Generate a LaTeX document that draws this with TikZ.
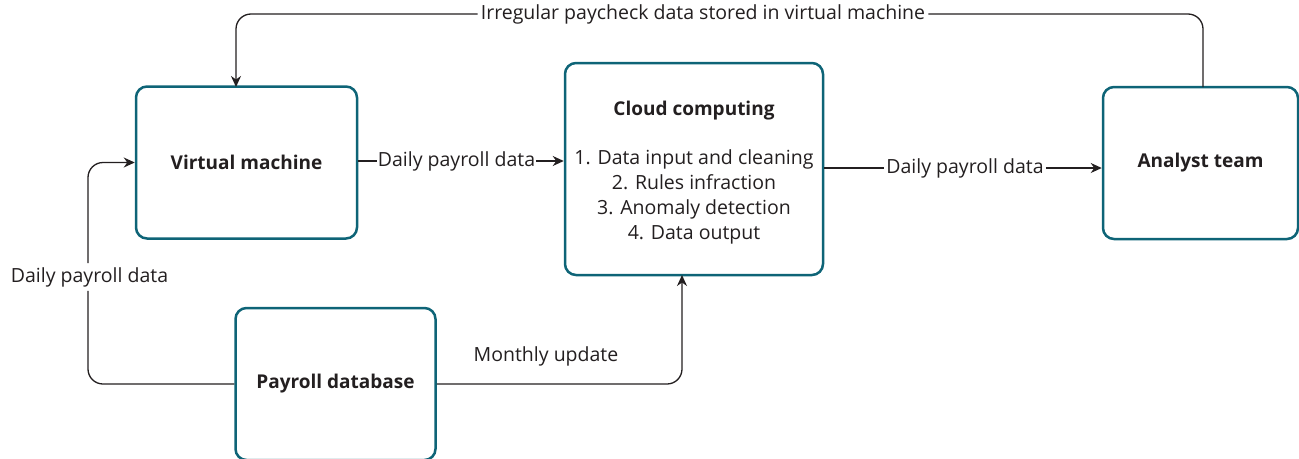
\documentclass[tikz,border=0pt]{standalone}
\usepackage{fontspec}
\setmainfont{Open Sans}
\usetikzlibrary{arrows.meta,calc}
\definecolor{boxteal}{HTML}{0E6477}
\definecolor{ink}{HTML}{231F20}
\tikzset{
  procbox/.style={draw=boxteal, line width=2.5pt, rounded corners=11pt, fill=white,
    font=\fontsize{19}{25}\selectfont\bfseries, text=ink, align=center, inner sep=0pt},
  conn/.style={draw=ink, line width=1.3pt, rounded corners=15pt},
  arr/.style={-{Stealth[length=11pt,width=10pt,inset=3.5pt]}},
  lbl/.style={font=\fontsize{19.5}{25}\selectfont, text=ink, inner sep=2pt, fill=white},
}
\begin{document}
\begin{tikzpicture}[x=1pt,y=-1pt]
\useasboundingbox (0,0) rectangle (1299,458);
\node[procbox, minimum width=221pt, minimum height=152pt] (vm) at (246.5,162.5) {Virtual machine};
\node[procbox, minimum width=258pt, minimum height=212pt] (cloud) at (694,169) {};
\node[font=\fontsize{19.5}{25}\selectfont, text=ink, align=center, inner sep=0pt] (cloudtxt) at (694,173)
  {{\fontsize{19}{25}\selectfont\bfseries Cloud computing}\\[24pt]1. Data input and cleaning\\2. Rules infraction\\3. Anomaly detection\\4. Data output};
\node[procbox, minimum width=195pt, minimum height=152pt] (at) at (1200.5,163) {Analyst team};
\node[procbox, minimum width=200pt, minimum height=152pt] (pd) at (335.5,384) {Payroll database};

\coordinate (atTop) at (1203,87);
\coordinate (vmTop) at (236,87);
\node[lbl, inner sep=3pt] (l1) at (703,14) {Irregular paycheck data stored in virtual machine};
\draw[conn] (atTop) |- (l1.east);
\draw[conn, arr] (l1.west) -| (vmTop);

\node[lbl, inner sep=0.5pt] (l2) at (456.5,161) {Daily payroll data};
\draw[conn] (vm.east |- l2) -- (l2.west);
\draw[conn, arr] (l2.east) -- (cloud.west |- l2);

\node[lbl] (l3) at (965,168) {Daily payroll data};
\draw[conn] (cloud.east |- l3) -- (l3.west);
\draw[conn, arr] (l3.east) -- (at.west |- l3);

\node[lbl, inner sep=4pt] (l4) at (89.5,277) {Daily payroll data};
\coordinate (lx) at (88,277);
\draw[conn] (pd.west) -| (lx |- l4.south);
\draw[conn, arr] (lx |- l4.north) |- (vm.west);

\coordinate (cb) at (682,275);
\node[lbl, fill=none] (l5) at (546,356) {Monthly update};
\draw[conn, arr] (pd.east) -| (cb);
\end{tikzpicture}
\end{document}
